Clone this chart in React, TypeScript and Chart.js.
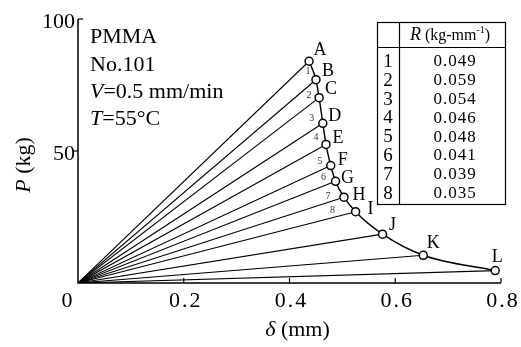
import { useEffect, useRef } from "react";
import { Chart, registerables } from "chart.js";

Chart.register(...registerables);

const pointNames = ["A", "B", "C", "D", "E", "F", "G", "H", "I", "J", "K", "L"];
const deltaMm = [0.437, 0.45, 0.456, 0.463, 0.469, 0.478, 0.487, 0.503, 0.525, 0.576, 0.653, 0.789];
const loadKg = [84, 77, 70.2, 60.5, 52.5, 44.5, 38.5, 32.5, 27, 18.5, 10.5, 4.7];
const segmentLabels = ["1", "2", "3", "4", "5", "6", "7", "8"];
const rValues = [0.049, 0.059, 0.054, 0.046, 0.048, 0.041, 0.039, 0.035];
const xTicks = [0.2, 0.4, 0.6, 0.8];
const yTicks = [50, 100];

const FONT = '"Liberation Serif", "DejaVu Serif", serif';

type Run = { t: string; italic?: boolean; size?: number; dy?: number };

function drawRuns(ctx: CanvasRenderingContext2D, runs: Run[], x: number, y: number, size: number, align: "left" | "center" = "left") {
  const widths = runs.map((r) => {
    ctx.font = `${r.italic ? "italic " : ""}${r.size ?? size}px ${FONT}`;
    return ctx.measureText(r.t).width;
  });
  const total = widths.reduce((a, b) => a + b, 0);
  let cx = align === "center" ? x - total / 2 : x;
  ctx.textAlign = "left";
  runs.forEach((r, i) => {
    ctx.font = `${r.italic ? "italic " : ""}${r.size ?? size}px ${FONT}`;
    ctx.fillText(r.t, cx, y + (r.dy ?? 0));
    cx += widths[i];
  });
}

const letterOffsets: [number, number][] = [
  [11, -11], [12, -8], [12, -8], [12, -7], [12, -6], [12, -5],
  [12, -3], [15, -2], [15, -2], [10, -9], [10, -12], [2, -13],
];
const segOffsets: [number, number][] = [
  [-8, -8], [-10, -2], [-11, -5], [-10, -7], [-11, -4], [-12, -4], [-16, -1], [-23, -1],
];

const decorPlugin = {
  id: "decor",
  afterDraw(chart: any) {
    const ctx: CanvasRenderingContext2D = chart.ctx;
    const xs = chart.scales.x;
    const ys = chart.scales.y;
    const x0 = xs.getPixelForValue(0);
    const xR = xs.getPixelForValue(0.8);
    const y0 = ys.getPixelForValue(0);
    const yT = ys.getPixelForValue(100);
    ctx.save();
    ctx.strokeStyle = "#000";
    ctx.fillStyle = "#000";
    ctx.lineWidth = 1.5;
    ctx.beginPath();
    ctx.moveTo(x0, yT);
    ctx.lineTo(x0, y0);
    ctx.lineTo(xR, y0);
    ctx.stroke();
    ctx.lineWidth = 1.2;
    xTicks.forEach((t) => {
      const px = xs.getPixelForValue(t);
      ctx.beginPath();
      ctx.moveTo(px, y0);
      ctx.lineTo(px, y0 - 5);
      ctx.stroke();
    });
    yTicks.forEach((t) => {
      const py = ys.getPixelForValue(t);
      ctx.beginPath();
      if (t === 100) {
        ctx.moveTo(x0, py);
        ctx.lineTo(x0 + 5, py);
      } else {
        ctx.moveTo(x0 - 5, py);
        ctx.lineTo(x0, py);
      }
      ctx.stroke();
    });

    // tick labels
    ctx.textBaseline = "alphabetic";
    ctx.font = `22px ${FONT}`;
    ctx.textAlign = "right";
    yTicks.forEach((t) => {
      const py = ys.getPixelForValue(t);
      ctx.fillText(String(t), x0 - 3, py + 9);
    });
    ctx.textAlign = "center";
    ctx.fillText("0", x0 - 11, y0 + 24);
    (ctx as any).letterSpacing = "2px";
    xTicks.forEach((t) => {
      const px = xs.getPixelForValue(t);
      ctx.fillText(t.toFixed(1), px + 2, y0 + 24);
    });
    (ctx as any).letterSpacing = "0px";

    // axis titles
    drawRuns(ctx, [{ t: "δ", italic: true }, { t: " (mm)" }], (x0 + xR) / 2 + 8, y0 + 53, 22, "center");
    ctx.save();
    ctx.translate(30, (yT + y0) / 2 + 14);
    ctx.rotate(-Math.PI / 2);
    drawRuns(ctx, [{ t: "P", italic: true }, { t: " (kg)" }], 0, 0, 22, "center");
    ctx.restore();

    // info text
    const ix = x0 + 12;
    drawRuns(ctx, [{ t: "PMMA" }], ix, 43, 22);
    drawRuns(ctx, [{ t: "No.101" }], ix, 71, 22);
    drawRuns(ctx, [{ t: "V", italic: true }, { t: "=0.5 mm/min" }], ix, 98, 22);
    drawRuns(ctx, [{ t: "T", italic: true }, { t: "=55°C" }], ix, 125, 22);

    // point letters
    const meta = chart.getDatasetMeta(0);
    ctx.textBaseline = "middle";
    ctx.textAlign = "center";
    ctx.font = `18px ${FONT}`;
    meta.data.forEach((el: any, i: number) => {
      const [dx, dy] = letterOffsets[i];
      ctx.fillText(pointNames[i], el.x + dx, el.y + dy);
    });
    ctx.font = `10px ${FONT}`;
    ctx.fillStyle = "#333";
    segmentLabels.forEach((s, i) => {
      const el = meta.data[i + 1];
      const [dx, dy] = segOffsets[i];
      ctx.fillText(s, el.x + dx, el.y + dy);
    });
    ctx.fillStyle = "#000";

    // table
    const tL = 377, tR = 505, tT = 22, tB = 204, tDiv = 399, tHead = 47;
    ctx.lineWidth = 1.2;
    ctx.strokeRect(tL + 0.5, tT + 0.5, tR - tL, tB - tT);
    ctx.beginPath();
    ctx.moveTo(tDiv + 0.5, tT);
    ctx.lineTo(tDiv + 0.5, tB);
    ctx.moveTo(tL, tHead + 0.5);
    ctx.lineTo(tR, tHead + 0.5);
    ctx.stroke();
    ctx.textBaseline = "alphabetic";
    drawRuns(
      ctx,
      [
        { t: "R", italic: true, size: 18 },
        { t: " (kg-mm", size: 16 },
        { t: "-1", size: 10, dy: -7 },
        { t: ")", size: 16 },
      ],
      (tDiv + tR) / 2 - 2,
      40,
      16,
      "center"
    );
    ctx.textAlign = "center";
    ctx.textBaseline = "middle";
    rValues.forEach((v, i) => {
      const ry = 62 + i * 18.8;
      ctx.font = `19px ${FONT}`;
      ctx.fillText(String(i + 1), (tL + tDiv) / 2, ry);
      ctx.font = `17px ${FONT}`;
      (ctx as any).letterSpacing = "1px";
      ctx.fillText(v.toFixed(3), (tDiv + tR) / 2 + 3, ry);
      (ctx as any).letterSpacing = "0px";
    });
    ctx.restore();
  },
};

export default function App() {
  const ref = useRef<HTMLCanvasElement>(null);
  useEffect(() => {
    if (!ref.current) return;
    const curve = deltaMm.map((x, i) => ({ x, y: loadKg[i] }));
    const fans = deltaMm.map((x, i) => ({
      data: [
        { x: 0, y: 0 },
        { x, y: loadKg[i] },
      ],
      showLine: true,
      borderColor: "#000",
      borderWidth: 1.1,
      pointRadius: 0,
      fill: false,
    }));
    const chart = new Chart(ref.current, {
      type: "scatter",
      data: {
        datasets: [
          {
            data: curve,
            showLine: true,
            borderColor: "#000",
            borderWidth: 1.4,
            cubicInterpolationMode: "monotone",
            pointRadius: 4,
            pointBackgroundColor: "#fff",
            pointBorderColor: "#000",
            pointBorderWidth: 1.5,
            fill: false,
          } as any,
          ...fans,
        ],
      },
      options: {
        animation: false,
        responsive: true,
        maintainAspectRatio: false,
        layout: { padding: { left: 78, right: 20, top: 19, bottom: 64 } },
        plugins: { legend: { display: false }, tooltip: { enabled: false } },
        scales: {
          x: { type: "linear", min: 0, max: 0.8, display: false },
          y: { type: "linear", min: 0, max: 100, display: false },
        },
      },
      plugins: [decorPlugin],
    });
    return () => chart.destroy();
  }, []);
  return (
    <div style={{ position: "fixed", left: 0, top: 0, width: 521, height: 347, background: "#fff" }}>
      <canvas ref={ref} />
    </div>
  );
}
